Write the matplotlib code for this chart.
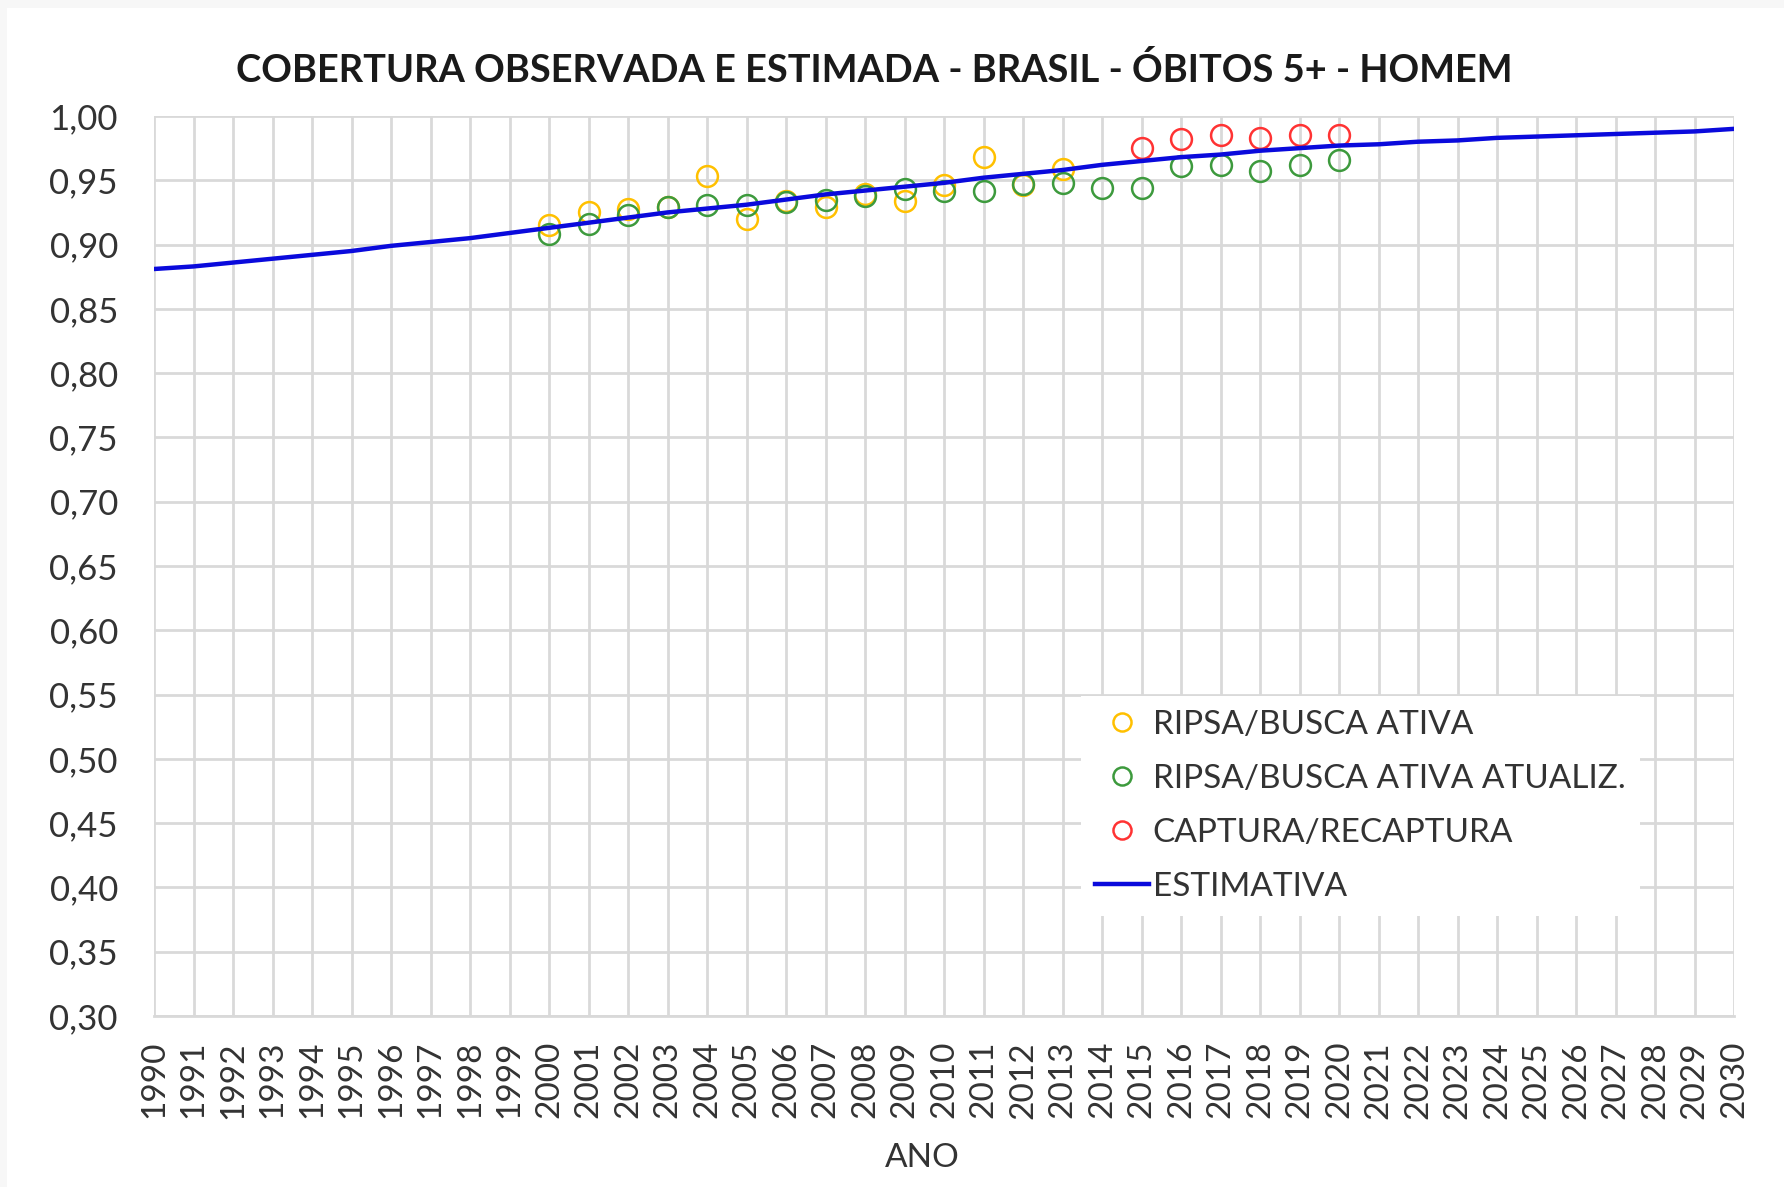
import matplotlib.pyplot as plt
from matplotlib.lines import Line2D
from matplotlib.patches import Rectangle

anos = list(range(1990, 2031))
estimativa = [0.881, 0.883, 0.886, 0.889, 0.892, 0.895, 0.899, 0.902, 0.905, 0.909,
              0.913, 0.917, 0.921, 0.925, 0.928, 0.931, 0.935, 0.939, 0.942, 0.945,
              0.948, 0.952, 0.955, 0.958, 0.962, 0.965, 0.968, 0.970, 0.973, 0.975,
              0.977, 0.978, 0.980, 0.981, 0.983, 0.984, 0.985, 0.986, 0.987, 0.988,
              0.990]

anos_ripsa = [2000, 2001, 2002, 2003, 2004, 2005, 2006, 2007, 2008, 2009, 2010, 2011, 2012, 2013]
ripsa = [0.915, 0.925, 0.928, 0.929, 0.953, 0.920, 0.934, 0.929, 0.939, 0.934, 0.946, 0.968, 0.946, 0.959]

anos_atual = list(range(2000, 2021))
ripsa_atual = [0.908, 0.916, 0.923, 0.929, 0.931, 0.931, 0.933, 0.935, 0.938, 0.943, 0.942,
               0.942, 0.947, 0.948, 0.944, 0.944, 0.961, 0.962, 0.957, 0.962, 0.966]

anos_captura = [2015, 2016, 2017, 2018, 2019, 2020]
captura = [0.975, 0.982, 0.985, 0.983, 0.985, 0.985]

yticks = [0.30, 0.35, 0.40, 0.45, 0.50, 0.55, 0.60, 0.65, 0.70, 0.75, 0.80, 0.85, 0.90, 0.95, 1.00]
ytick_labels = ['{:.2f}'.format(v).replace('.', ',') for v in yticks]

plt.rcParams['font.family'] = ['Lato', 'DejaVu Sans']

fig = plt.figure(figsize=(17.84, 11.87), dpi=100)
fig.patch.set_facecolor('#f7f7f7')
# fundo branco com uma borda cinza fina no topo e a esquerda
fig.patches.append(Rectangle((7 / 1784, 0), 1, 1 - 8 / 1187, transform=fig.transFigure,
                             facecolor='white', edgecolor='none', zorder=-10))
ax = fig.add_axes([154 / 1784, 1 - 1016 / 1187, 1580 / 1784, 900 / 1187])
ax.set_facecolor('white')

cor_ripsa = '#FFC000'
cor_atual = '#3D9A3D'
cor_captura = '#FF3333'
cor_linha = '#0A0ADC'

ax.plot(anos_ripsa, ripsa, 'o', ms=15, mfc='none', mec=cor_ripsa, mew=1.8, zorder=3,
        label='RIPSA/BUSCA ATIVA')
ax.plot(anos_atual, ripsa_atual, 'o', ms=15, mfc='none', mec=cor_atual, mew=1.8, zorder=4,
        label='RIPSA/BUSCA ATIVA ATUALIZ.')
ax.plot(anos_captura, captura, 'o', ms=15, mfc='none', mec=cor_captura, mew=1.8, zorder=5,
        label='CAPTURA/RECAPTURA')
ax.plot(anos, estimativa, '-', color=cor_linha, lw=3.2, zorder=6, label='ESTIMATIVA')

ax.set_xlim(1990, 2030)
ax.set_ylim(0.30, 1.00)
ax.set_xticks(anos)
ax.set_xticklabels([str(a) for a in anos], rotation=90, fontsize=24, color='#333333')
ax.set_yticks(yticks)
ax.set_yticklabels(ytick_labels, fontsize=25, color='#333333')
ax.tick_params(axis='y', length=0, pad=26)
ax.tick_params(axis='x', length=0, pad=18)
ax.grid(True, color='#d9d9d9', lw=2)
ax.set_axisbelow(True)
for s in ['top', 'right', 'left']:
    ax.spines[s].set_visible(False)
ax.spines['bottom'].set_color('#d9d9d9')
ax.spines['bottom'].set_linewidth(2)

fig.text(874 / 1784, 1 - 70 / 1187, 'COBERTURA OBSERVADA E ESTIMADA - BRASIL - ÓBITOS 5+ - HOMEM',
         ha='center', va='center', fontsize=27.4, fontweight='bold', color='#1a1a1a')
fig.text(922 / 1784, 1 - 1158 / 1187, 'ANO', ha='center', va='center', fontsize=24, color='#333333')

handles = [
    Line2D([], [], ls='none', marker='o', ms=13, mfc='none', mec=cor_ripsa, mew=1.8),
    Line2D([], [], ls='none', marker='o', ms=13, mfc='none', mec=cor_atual, mew=1.8),
    Line2D([], [], ls='none', marker='o', ms=13, mfc='none', mec=cor_captura, mew=1.8),
    Line2D([], [], color=cor_linha, lw=3.2),
]
labels = ['RIPSA/BUSCA ATIVA', 'RIPSA/BUSCA ATIVA ATUALIZ.', 'CAPTURA/RECAPTURA', 'ESTIMATIVA']
leg = ax.legend(handles, labels, loc='upper left', bbox_to_anchor=(0.587, 0.356),
                frameon=True, fancybox=False, framealpha=1, edgecolor='none',
                fontsize=24, handlelength=1.6, handletextpad=0.12, labelspacing=0.72,
                borderpad=0.42, borderaxespad=0)
for t in leg.get_texts():
    t.set_color('#333333')

fig.savefig('out.png', dpi=100, facecolor=fig.get_facecolor())
